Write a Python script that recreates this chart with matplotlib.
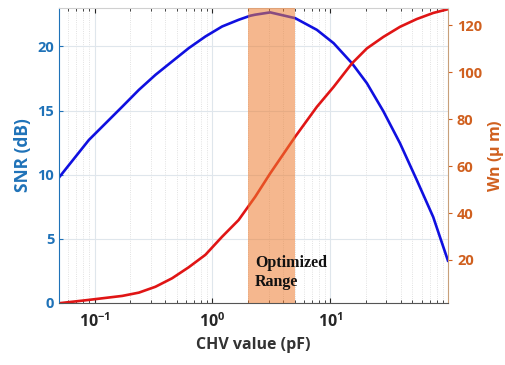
import numpy as np
import matplotlib.pyplot as plt
from matplotlib.ticker import LogLocator, NullFormatter, FixedLocator

# ── Datos ───────────────────────────────────────────────────────────────────
chv_snr = [0.0505, 0.0895, 0.172, 0.238, 0.329, 0.455, 0.63, 0.873, 1.21,
           1.67, 2.10, 2.31, 3.10, 5.05, 7.71, 10.7, 15.3, 20.5, 28.3,
           39.2, 54.3, 75, 100]
snr_db = [9.84, 12.71, 15.31, 16.62, 17.79, 18.83, 19.87, 20.78, 21.56,
          22.08, 22.40, 22.48, 22.66, 22.21, 21.3, 20.26, 18.7, 17.14,
          14.95, 12.45, 9.6, 6.7, 3.3]

chv_wn = [0.0505, 0.0895, 0.172, 0.238, 0.329, 0.455, 0.63, 0.873, 1.21,
          1.67, 2.10, 2.31, 3.10, 5.05, 7.71, 10.7, 15.3, 20.5, 28.3,
          39.2, 54.3, 75, 100]
wn_um = [1.6, 3.0, 4.7, 6.1, 8.6, 12.2, 16.9, 22.2, 29.9,
         37.0, 44.0, 46.9, 56.9, 72.5, 85.2, 93.7, 103.7, 110.1, 115,
         119.3, 122.6, 125.2, 126.8]

opt_range = (2, 5)

c_left = '#1f72b8'
c_right = '#d0601f'

plt.rcParams['font.family'] = ['Open Sans', 'DejaVu Sans']
plt.rcParams['mathtext.fontset'] = 'custom'
plt.rcParams['mathtext.rm'] = 'Open Sans:bold'
plt.rcParams['mathtext.it'] = 'Open Sans:bold'

fig = plt.figure(figsize=(5.05, 3.65), dpi=100)
ax = fig.add_axes([0.117, 0.170, 0.770, 0.808])
ax2 = ax.twinx()

ax.plot(chv_snr, snr_db, color='#1010e0', lw=1.9)
ax2.plot(chv_wn, wn_um, color='#e01515', lw=1.9, zorder=2)
ax2.axvspan(*opt_range, color='#ed7d31', alpha=0.55, lw=0, zorder=3)
ax2.text(2.3, 9, 'Optimized\nRange', family='Liberation Serif',
         fontweight='bold', fontsize=11.5, color='#111111', zorder=4,
         linespacing=1.25)

ax.set_xscale('log')
ax.set_xlim(0.05, 100)
ax.set_ylim(0, 23)
ax2.set_ylim(1.7, 127.3)

ax.set_yticks([0, 5, 10, 15, 20])
ax2.set_yticks([20, 40, 60, 80, 100, 120])
ax.xaxis.set_major_locator(FixedLocator([0.1, 1, 10]))
ax.xaxis.set_minor_locator(LogLocator(base=10, subs=np.arange(2, 10), numticks=20))
ax.xaxis.set_minor_formatter(NullFormatter())

ax.grid(True, which='major', color='#dfe6ec', lw=0.8)
ax.grid(True, which='minor', axis='x', color='#d8d8d8', lw=0.6, ls=':')

ax.tick_params(axis='x', which='both', direction='in', top=True,
               labelsize=11.5, colors='#262626', pad=7)
ax.tick_params(axis='x', which='minor', length=2)
ax.tick_params(axis='y', direction='in', length=3, labelsize=10.5,
               labelcolor=c_left, color=c_left)
ax2.tick_params(axis='y', direction='out', length=3, labelsize=10.5,
                labelcolor=c_right, color=c_right)
for lab in ax.get_yticklabels() + ax2.get_yticklabels() + ax.get_xticklabels():
    lab.set_fontweight('bold')

ax.set_xlabel('CHV value (pF)', fontsize=11.5, fontweight='bold', color='#333333')
ax.set_ylabel('SNR (dB)', fontsize=12.5, fontweight='bold', color=c_left)
ax2.set_ylabel('Wn ($\\mu$ m)', fontsize=11.5, fontweight='bold', color=c_right,
               labelpad=3)

ax2.spines['left'].set_color(c_left)
ax2.spines['right'].set_color('#c8a07a')
ax2.spines['bottom'].set_color('#555555')
ax2.spines['top'].set_color('#d0d0d0')
for s in ax.spines.values():
    s.set_visible(False)

plt.savefig('out.png', dpi=100)
